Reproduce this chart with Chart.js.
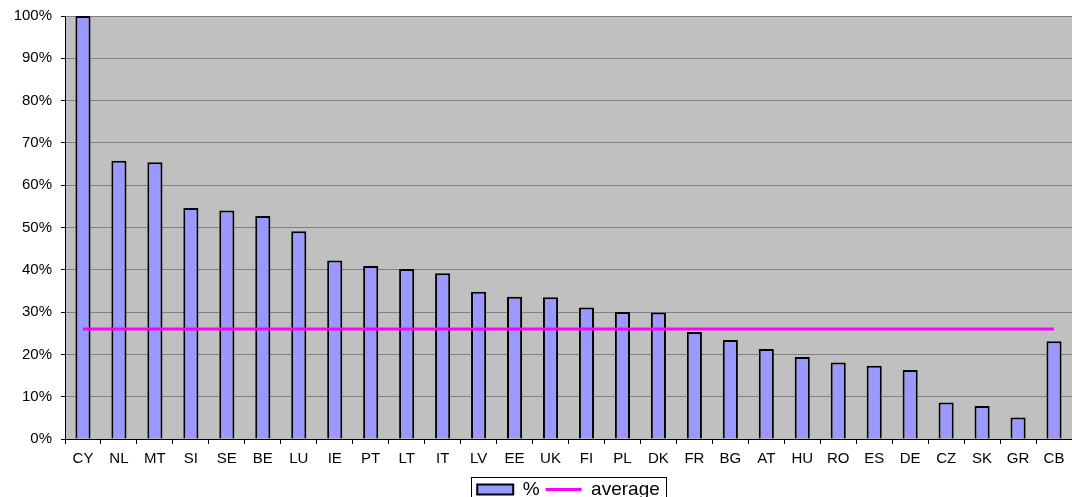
<!DOCTYPE html>
<html lang="en">
<head>
    <meta charset="UTF-8">
    <title>Share by country</title>
    <script src="https://cdn.jsdelivr.net/npm/chart.js"></script>
    <style>
        html, body { margin: 0; padding: 0; background: #fff; overflow: hidden; }
        /* taller than the window: the legend frame runs off the bottom as in the original */
        #wrap { width: 1072px; height: 509px; }
    </style>
</head>
<body>
<div id="wrap"><canvas id="chart"></canvas></div>
<script>
    // ** Data **
    let countries = ["CY", "NL", "MT", "SI", "SE", "BE", "LU", "IE", "PT", "LT", "IT", "LV", "EE", "UK",
                     "FI", "PL", "DK", "FR", "BG", "AT", "HU", "RO", "ES", "DE", "CZ", "SK", "GR", "CB"];
    let percent = [100, 65.8, 65.4, 54.6, 54.0, 52.7, 49.1, 42.2, 40.9, 40.2, 39.2, 34.8, 33.6, 33.5,
                   31.1, 30.0, 29.9, 25.3, 23.4, 21.3, 19.4, 18.1, 17.3, 16.3, 8.6, 7.8, 5.1, 23.1];
    let averageValue = 26.0;
    let average = countries.map(() => averageValue);
    let yTicks = [0, 10, 20, 30, 40, 50, 60, 70, 80, 90, 100];

    // gray plot background
    const plotBackground = {
        id: "plotBackground",
        beforeDraw(chart) {
            const a = chart.chartArea, ctx = chart.ctx;
            ctx.save();
            ctx.fillStyle = "#C0C0C0";
            ctx.fillRect(a.left, a.top, a.right - a.left, a.bottom - a.top);
            ctx.restore();
        }
    };

    // black frame round the legend
    const legendFrame = {
        id: "legendFrame",
        afterDraw(chart) {
            const boxes = chart.legend.legendHitBoxes;
            if (!boxes || !boxes.length) return;
            let l = Math.min(...boxes.map(b => b.left)) - 6;
            let r = Math.max(...boxes.map(b => b.left + b.width)) + 6;
            let t = Math.min(...boxes.map(b => b.top)) - 3;
            let bt = Math.max(...boxes.map(b => b.top + b.height)) + 4;
            const ctx = chart.ctx;
            ctx.save();
            ctx.strokeStyle = "#000";
            ctx.lineWidth = 1;
            ctx.strokeRect(Math.round(l) + 0.5, Math.round(t) + 0.5, Math.round(r - l), Math.round(bt - t));
            ctx.restore();
        }
    };

    new Chart(document.getElementById("chart"), {
        data: {
            labels: countries,
            datasets: [
                {
                    type: "line",
                    label: "average",
                    data: average,
                    borderColor: "#FF00FF",
                    backgroundColor: "#FF00FF",
                    borderWidth: 3,
                    pointRadius: 0,
                    pointStyle: "line",
                    order: 0
                },
                {
                    type: "bar",
                    label: "%",
                    data: percent,
                    backgroundColor: "#9999FF",
                    borderColor: "#000000",
                    borderWidth: 2,
                    barPercentage: 0.42,
                    categoryPercentage: 1,
                    pointStyle: "rect",
                    order: 1
                }
            ]
        },
        options: {
            responsive: true,
            maintainAspectRatio: false,
            animation: false,
            layout: { padding: { top: 16, left: 0, right: 0, bottom: 0 } },
            plugins: {
                tooltip: { enabled: false },
                legend: {
                    position: "bottom",
                    fullSize: false,
                    reverse: true,
                    labels: {
                        usePointStyle: true,
                        pointStyleWidth: 36,
                        boxHeight: 10,
                        padding: 6,
                        color: "#000",
                        font: { family: "Arial, 'Liberation Sans'", size: 19 }
                    }
                }
            },
            scales: {
                x: {
                    offset: true,
                    grid: { offset: true, drawOnChartArea: false, tickLength: 5, tickColor: "#000" },
                    border: { color: "#000", width: 1 },
                    ticks: {
                        color: "#000",
                        padding: 6,
                        maxRotation: 0,
                        autoSkip: false,
                        font: { family: "Arial, 'Liberation Sans'", size: 15 }
                    }
                },
                y: {
                    min: 0,
                    max: 100,
                    afterFit(scale) { scale.width = 65; scale.paddingTop = 0; scale.paddingBottom = 0; },
                    afterBuildTicks(scale) { scale.ticks = yTicks.map(v => ({ value: v })); },
                    grid: { color: "#808080", lineWidth: 1, tickLength: 4, tickColor: "#000" },
                    border: { color: "#000", width: 1 },
                    ticks: {
                        color: "#000",
                        padding: 9,
                        font: { family: "Arial, 'Liberation Sans'", size: 15 },
                        callback: v => v + "%"
                    }
                }
            }
        },
        plugins: [plotBackground, legendFrame]
    });
</script>
</body>
</html>
